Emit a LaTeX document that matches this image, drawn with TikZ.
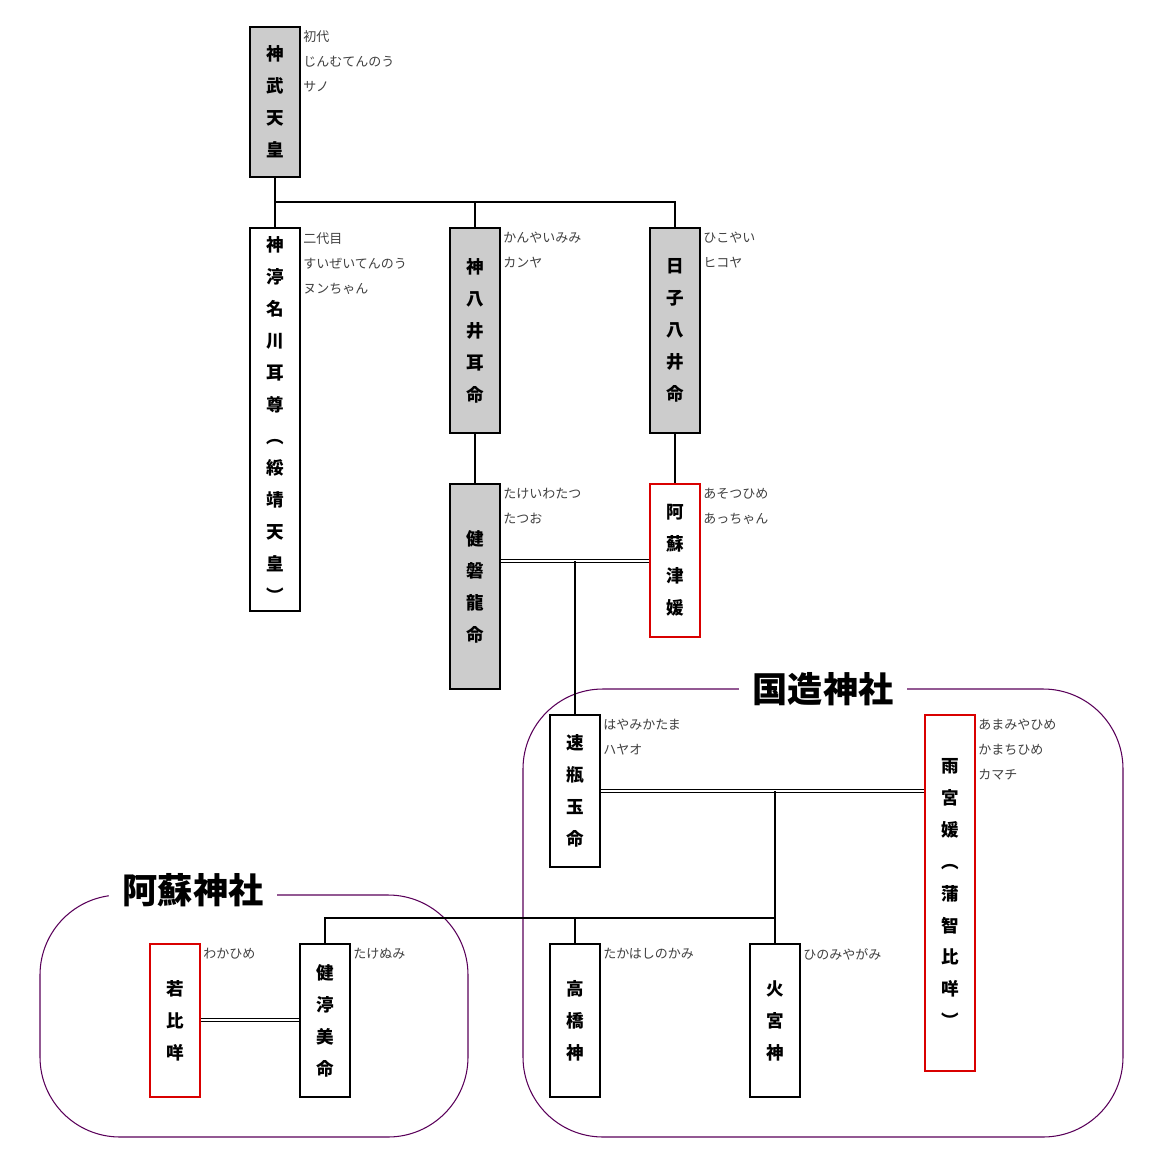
\documentclass[tikz,border=0pt]{standalone}
\usepackage{fontspec}
\setmainfont{Noto Sans CJK JP}
\usetikzlibrary{positioning}
\tikzset{
  box/.style={draw, line width=1pt, minimum width=1cm, inner sep=0pt,
    font=\fontsize{10}{18.2}\selectfont\bfseries, align=center},
  kin/.style={box, fill=gray!40},
  hime/.style={box, draw=red!85!black},
  note/.style={anchor=north west, inner sep=0pt, align=left, text=black!75,
    font=\fontsize{7.4}{14.2}\selectfont},
  link/.style={line width=0.6pt},
  wed/.style={double, double distance=1.6pt, line width=0.5pt},
  area/.style={draw=violet!70!black, line width=0.6pt, rounded corners=1.6cm},
  title/.style={fill=white, inner xsep=8pt, font=\fontsize{20}{24}\selectfont\bfseries}
}
% box: name, x, top, bottom, style, text (px)
\newcommand{\kbox}[6]{\node[#5, minimum height={(#4-#3)*0.02cm}] (#1) at ({#2},{(#3+#4)/2}) {#6};}
\begin{document}
\begin{tikzpicture}[x=0.02cm, y=-0.02cm]
\useasboundingbox (0,0) rectangle (1151,1174);
% shrine areas
\draw[area] (523,689) rectangle (1123,1137);
\draw[area] (40,895) rectangle (468,1137);
\node[title] (kokuzo) at (823,689) {国造神社};
\node[title] (aso) at (193,890) {阿蘇神社};
% persons
\kbox{jinmu}{275}{27}{177}{kin}{神\\武\\天\\皇}
\kbox{suizei}{275}{228}{611}{box}{神\\渟\\名\\川\\耳\\尊\\︵\\綏\\靖\\天\\皇\\︶}
\kbox{kanyai}{475}{228}{433}{kin}{神\\八\\井\\耳\\命}
\kbox{hikoyai}{675}{228}{433}{kin}{日\\子\\八\\井\\命}
\kbox{takeiwa}{475}{484}{689}{kin}{健\\磐\\龍\\命}
\kbox{asotsu}{675}{484}{637}{hime}{阿\\蘇\\津\\媛}
\kbox{hayami}{575}{715}{867}{box}{速\\瓶\\玉\\命}
\kbox{amamiya}{950}{715}{1071}{hime}{雨\\宮\\媛\\︵\\蒲\\智\\比\\咩\\︶}
\kbox{takahashi}{575}{944}{1097}{box}{高\\橋\\神}
\kbox{hinomiya}{775}{944}{1097}{box}{火\\宮\\神}
\kbox{takenu}{325}{944}{1097}{box}{健\\渟\\美\\命}
\kbox{wakahime}{175}{944}{1097}{hime}{若\\比\\咩}
% notes
\node[note] at (303,30) {初代\\じんむてんのう\\サノ};
\node[note] at (303,232) {二代目\\すいぜいてんのう\\ヌンちゃん};
\node[note] at (503,232) {かんやいみみ\\カンヤ};
\node[note] at (703,232) {ひこやい\\ヒコヤ};
\node[note] at (503,488) {たけいわたつ\\たつお};
\node[note] at (703,488) {あそつひめ\\あっちゃん};
\node[note] at (603,719) {はやみかたま\\ハヤオ};
\node[note] at (978,719) {あまみやひめ\\かまちひめ\\カマチ};
\node[note] at (603,948) {たかはしのかみ};
\node[note] at (803,948) {ひのみやがみ};
\node[note] at (353,948) {たけぬみ};
\node[note] at (203,948) {わかひめ};
% junctions
\coordinate (j1) at (275,202);
\coordinate (j2) at (575,561);
\coordinate (j3) at (775,791);
\coordinate (j4) at (775,918);
% lines
\draw[link] (jinmu) -- (j1) -| (hikoyai);
\draw[link] (j1) -- (suizei);
\draw[link] (kanyai |- j1) -- (kanyai);
\draw[link] (kanyai) -- (takeiwa);
\draw[link] (hikoyai) -- (asotsu);
\draw[wed] (takeiwa.east |- j2) -- (asotsu.west |- j2);
\draw[link] (j2) -- (hayami);
\draw[wed] (hayami.east |- j3) -- (amamiya.west |- j3);
\draw[link] (j3) -- (j4) -| (takenu);
\draw[link] (j4) -- (hinomiya);
\draw[link] (takahashi |- j4) -- (takahashi);
\draw[wed] (wakahime.east |- 0,1020) -- (takenu.west |- 0,1020);
\end{tikzpicture}
\end{document}
